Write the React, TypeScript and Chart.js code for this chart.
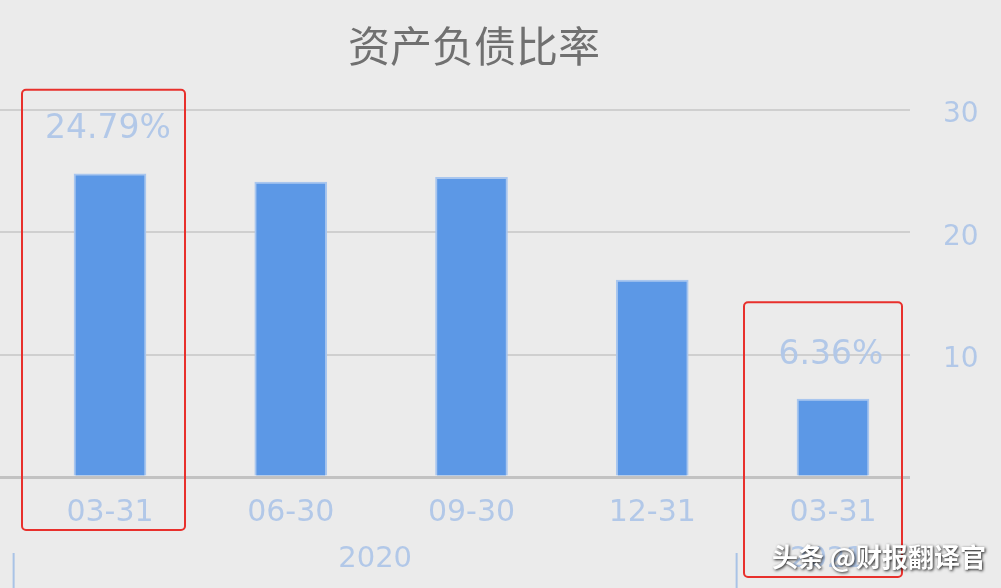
import { useEffect, useRef } from "react";
import { Chart, registerables } from "chart.js";

Chart.register(...registerables);

const title = "资产负债比率";
const categories = ["03-31", "06-30", "09-30", "12-31", "03-31"];
const values = [24.79, 24.1, 24.5, 16.1, 6.36];
const yTicks = [0, 10, 20, 30];
const yearLabels = ["2020", "2021"];
const yearStarts = [0, 4];
const labelledBars = [0, 4];
const watermark = "头条 @财报翻译官";

const BLUE_TEXT = "#b2c8e8";

// red annotation boxes around the first and last bar
const highlights = [
  { index: 0, left: 88, right: 75, above: 84, below: 53 },
  { index: 4, left: 89, right: 69, above: 97, below: 100 },
];

const overlay = {
  id: "overlay",
  afterDraw(chart: any) {
    const ctx = chart.ctx;
    const xs = chart.scales.x;
    const area = chart.chartArea;
    const bars = chart.getDatasetMeta(0).data;
    ctx.save();

    // title
    ctx.fillStyle = "#707070";
    ctx.font = '42px "Noto Sans CJK SC"';
    ctx.textAlign = "center";
    ctx.textBaseline = "middle";
    ctx.fillText(title, 474, 46);

    // value labels
    ctx.fillStyle = BLUE_TEXT;
    ctx.font = '33px "DejaVu Sans"';
    labelledBars.forEach((i) => {
      const b = bars[i];
      ctx.fillText(values[i].toFixed(2) + "%", b.x - 2, b.y - 44);
    });

    // year groups
    const seps = yearStarts.map((s) => xs.getPixelForValue(s - 0.5) - 6);
    const ends = [...seps.slice(1), xs.getPixelForValue(categories.length - 0.5) - 6];
    ctx.strokeStyle = "#a9c3e6";
    ctx.lineWidth = 2;
    ctx.font = '29px "DejaVu Sans"';
    yearLabels.forEach((y, k) => {
      ctx.beginPath();
      ctx.moveTo(seps[k], area.bottom + 76);
      ctx.lineTo(seps[k], chart.height);
      ctx.stroke();
      ctx.fillText(y, (seps[k] + ends[k]) / 2, area.bottom + 82);
    });

    // red boxes
    ctx.strokeStyle = "#e8302c";
    ctx.lineWidth = 2;
    highlights.forEach((h) => {
      const b = bars[h.index];
      const l = b.x - h.left;
      const t = b.y - h.above;
      ctx.beginPath();
      ctx.roundRect(l, t, h.left + h.right, area.bottom + h.below - t, 4);
      ctx.stroke();
    });

    // watermark
    ctx.font = 'bold 26px "Noto Sans CJK SC"';
    ctx.textAlign = "right";
    ctx.shadowColor = "rgba(0,0,0,0.9)";
    ctx.shadowBlur = 3;
    ctx.shadowOffsetX = 1;
    ctx.shadowOffsetY = 1;
    ctx.fillStyle = "#ffffff";
    ctx.fillText(watermark, 986, 557);
    ctx.restore();
  },
};

const App = () => {
  const canvasRef = useRef<HTMLCanvasElement>(null);

  useEffect(() => {
    const chart = new Chart(canvasRef.current as HTMLCanvasElement, {
      type: "bar",
      data: {
        datasets: [
          {
            data: values.map((v, i) => ({ x: i, y: v })),
            backgroundColor: "#5c98e6",
            borderColor: "rgba(165,196,238,0.95)",
            borderWidth: 2,
            borderSkipped: "bottom",
            barThickness: 72,
          },
        ],
      },
      options: {
        animation: false,
        responsive: true,
        maintainAspectRatio: false,
        layout: { padding: { top: 110, left: 0, right: 0, bottom: 0 } },
        plugins: {
          legend: { display: false },
          tooltip: { enabled: false },
        },
        scales: {
          x: {
            type: "linear",
            offset: false,
            min: -0.6086,
            max: 4.426,
            grid: { display: false, offset: false },
            border: { display: false },
            afterBuildTicks: (scale: any) => {
              scale.ticks = categories.map((_, i) => ({ value: i }));
            },
            afterFit: (scale: any) => {
              scale.height = 111;
            },
            ticks: {
              padding: 10,
              color: BLUE_TEXT,
              font: { family: "DejaVu Sans", size: 30 },
              callback: (v: any) => categories[v] ?? "",
            },
          },
          y: {
            position: "right",
            min: 0,
            max: 30,
            afterBuildTicks: (scale: any) => {
              scale.ticks = yTicks.map((v) => ({ value: v }));
            },
            afterFit: (scale: any) => {
              scale.width = 91;
            },
            border: { display: false },
            grid: {
              drawTicks: false,
              color: (c: any) => (c.tick && c.tick.value === 0 ? "#c2c2c2" : "#cfcfcf"),
              lineWidth: (c: any) => (c.tick && c.tick.value === 0 ? 3 : 2),
            },
            ticks: {
              padding: 33,
              labelOffset: 5,
              color: BLUE_TEXT,
              font: { family: "DejaVu Sans", size: 28 },
              callback: (v: any) => (v === 0 ? "" : String(v)),
            },
          },
        },
      },
      plugins: [overlay],
    });
    return () => {
      chart.destroy();
    };
  }, []);

  return (
    <div
      style={{
        position: "fixed",
        left: 0,
        top: 0,
        width: 1001,
        height: 588,
        background: "#ebebeb",
      }}
    >
      <canvas ref={canvasRef}></canvas>
    </div>
  );
};

export default App;
